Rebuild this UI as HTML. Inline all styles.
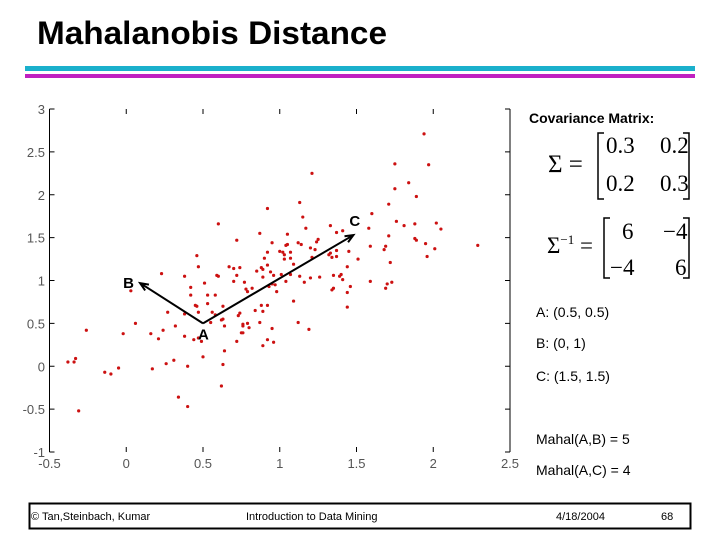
<!DOCTYPE html>
<html><head><meta charset="utf-8"><style>
html,body{margin:0;padding:0;background:#fff;}
svg{display:block;font-family:"Liberation Sans",sans-serif;}
</style></head><body>
<svg id="s" width="720" height="540" viewBox="0 0 720 540">
<text x="37" y="44" font-size="32" font-weight="bold" textLength="350" lengthAdjust="spacingAndGlyphs">Mahalanobis Distance</text>
<rect x="25" y="66" width="670" height="5" fill="#1ab0cc"/>
<rect x="25" y="74" width="670" height="4" fill="#c020c0"/>
<g id="plot"></g>
<g font-family="'Liberation Serif',serif" font-size="23">
<text x="529" y="123" font-family="'Liberation Sans',sans-serif" font-size="14" font-weight="bold">Covariance Matrix:</text>
<text x="548" y="172" font-size="25">Σ =</text>
<path d="M604,133 h-6 v66 h6 M683,133 h6 v66 h-6" stroke="#000" stroke-width="1.5" fill="none"/>
<text x="606" y="153">0.3</text>
<text x="660" y="153">0.2</text>
<text x="606" y="191">0.2</text>
<text x="660" y="191">0.3</text>
<text x="547" y="253" font-size="23">Σ<tspan dy="-9" font-size="13">−1</tspan><tspan dy="9"> =</tspan></text>
<path d="M610,218 h-6 v60 h6 M683,218 h6 v60 h-6" stroke="#000" stroke-width="1.5" fill="none"/>
<text x="622" y="239">6</text>
<text x="663" y="239">−4</text>
<text x="610" y="275">−4</text>
<text x="675" y="275">6</text>
</g>
<g font-size="14">
<text x="536" y="317">A: (0.5, 0.5)</text>
<text x="536" y="348">B: (0, 1)</text>
<text x="536" y="381">C: (1.5, 1.5)</text>
<text x="536" y="444">Mahal(A,B) = 5</text>
<text x="536" y="475">Mahal(A,C) = 4</text>
</g>
<rect x="29.5" y="503.5" width="661" height="25" fill="none" stroke="#000" stroke-width="2"/>
<g font-size="11">
<text x="31" y="520">© Tan,Steinbach, Kumar</text>
<text x="246" y="520">Introduction to Data Mining</text>
<text x="556" y="520">4/18/2004</text>
<text x="661" y="520">68</text>
</g>
</svg>
<script>
const xTicks=[-0.5,0,0.5,1,1.5,2,2.5];
const xTickLabels=["-0.5","0","0.5","1","1.5","2","2.5"];
const yTicks=[-1,-0.5,0,0.5,1,1.5,2,2.5,3];
const yTickLabels=["-1","-0.5","0","0.5","1","1.5","2","2.5","3"];
const px=[1.94,1.75,1.97,1.21,1.75,1.84,1.89,1.13,1.71,0.92,1.6,1.15,0.6,1.76,1.81,1.88,2.02,2.05,1.58,1.17,1.33,1.41,1.37,1.05,0.87,1.71,1.88,1.89,1.95,2.01,2.29,0.72,0.95,1.25,1.12,1.14,1.04,1.05,1.24,1.2,1.23,1.0,1.02,1.03,1.07,0.92,0.46,1.69,1.68,1.59,1.33,1.37,1.45,1.34,1.32,1.37,1.51,1.72,1.96,1.21,1.03,1.07,0.9,1.09,0.47,0.67,0.74,0.88,0.7,0.89,0.85,0.92,0.94,0.59,0.6,0.72,0.89,0.96,1.01,1.07,1.13,1.2,1.26,1.35,1.4,1.44,1.39,1.41,0.23,0.38,0.51,0.7,0.77,1.04,1.16,0.95,0.97,0.93,1.59,1.73,1.7,1.46,1.69,0.42,0.78,0.82,0.79,0.98,1.35,1.34,1.44,0.03,0.42,0.53,0.58,0.53,1.09,0.45,0.46,0.63,0.88,0.92,1.44,0.84,0.89,0.27,0.47,0.56,0.74,0.38,0.58,0.73,0.63,0.62,0.55,0.76,0.79,0.87,1.12,0.06,0.64,0.32,0.76,0.8,0.95,1.19,-0.26,0.24,-0.02,0.16,0.38,0.75,0.76,0.21,0.44,0.47,0.49,0.72,0.96,0.92,0.89,0.64,0.5,0.31,0.26,-0.33,-0.34,-0.38,-0.05,0.17,0.4,0.63,-0.14,-0.1,0.62,0.34,0.4,-0.31];
const py=[2.71,2.36,2.35,2.25,2.07,2.14,1.98,1.91,1.89,1.84,1.78,1.74,1.66,1.69,1.64,1.66,1.67,1.6,1.61,1.61,1.64,1.58,1.56,1.54,1.55,1.52,1.49,1.47,1.43,1.37,1.41,1.47,1.44,1.48,1.44,1.42,1.41,1.42,1.45,1.38,1.36,1.34,1.33,1.3,1.33,1.33,1.29,1.4,1.36,1.4,1.32,1.35,1.34,1.27,1.3,1.28,1.25,1.21,1.28,1.27,1.25,1.26,1.26,1.19,1.16,1.16,1.15,1.15,1.14,1.13,1.11,1.18,1.1,1.06,1.05,1.06,1.04,1.06,1.07,1.07,1.05,1.03,1.04,1.06,1.07,1.16,1.05,1.01,1.08,1.05,0.97,0.99,0.98,0.99,0.98,0.96,0.95,0.93,0.99,0.98,0.96,0.93,0.91,0.92,0.9,0.91,0.87,0.87,0.91,0.89,0.86,0.88,0.83,0.83,0.83,0.73,0.76,0.71,0.7,0.7,0.71,0.71,0.69,0.65,0.64,0.63,0.63,0.63,0.62,0.61,0.6,0.59,0.55,0.54,0.51,0.49,0.5,0.51,0.51,0.5,0.47,0.47,0.47,0.45,0.44,0.43,0.42,0.42,0.38,0.38,0.35,0.39,0.39,0.32,0.31,0.33,0.29,0.29,0.28,0.31,0.24,0.18,0.11,0.07,0.03,0.09,0.05,0.05,-0.02,-0.03,0,0.02,-0.07,-0.09,-0.23,-0.36,-0.47,-0.52];
const ptA=[0.5,0.5], ptB=[0.09,0.97], ptC=[1.48,1.53];
const NS="http://www.w3.org/2000/svg";
const L=49.5,R=510,T=109,B=452;
const sx=v=>L+(v+0.5)/3*(R-L);
const sy=v=>B-(v+1)/4*(B-T);
const g=document.getElementById('plot');
function mk(t,a){const e=document.createElementNS(NS,t);for(const k in a)e.setAttribute(k,a[k]);g.appendChild(e);return e;}
let e=mk('line',{x1:L,y1:T,x2:L,y2:B,stroke:'#000','stroke-width':1});


e=mk('line',{x1:R,y1:T,x2:R,y2:B,stroke:'#000','stroke-width':1});


xTicks.forEach((v,i)=>{
 const x=sx(v);
 let t=mk('path',{d:`M${x},${T}v5M${x},${B}v-5`,stroke:'#000','stroke-width':1});
 
 
 let s=mk('text',{x:x,y:468,'font-size':13,fill:'#555','text-anchor':'middle'});s.textContent=xTickLabels[i];
 
 
});
yTicks.forEach((v,i)=>{
 const y=sy(v);
 let t=mk('path',{d:`M${L},${y}h5M${R},${y}h-5`,stroke:'#000','stroke-width':1});
 
 
 let s=mk('text',{x:45,y:y+5,'font-size':13,fill:'#555','text-anchor':'end'});s.textContent=yTickLabels[i];
 
 
});
px.forEach((v,i)=>{
 const c=mk('circle',{cx:sx(v),cy:sy(py[i]),r:1.6,fill:'#cc1111'});
 
 
});
function arrow(p,q,name){
 const x1=sx(p[0]),y1=sy(p[1]),x2=sx(q[0]),y2=sy(q[1]);
 const a=Math.atan2(y2-y1,x2-x1),h=9;
 const d=`M${x1},${y1}L${x2},${y2}M${x2-h*Math.cos(a-0.4)},${y2-h*Math.sin(a-0.4)}L${x2},${y2}L${x2-h*Math.cos(a+0.4)},${y2-h*Math.sin(a+0.4)}`;
 const l=mk('path',{d:d,stroke:'#000','stroke-width':2,fill:'none'});
 
 
}
arrow(ptA,ptB,'arrow-a-to-b');
arrow(ptA,ptC,'arrow-a-to-c');
function lab(txt,p,dx,dy,name){
 const t=mk('text',{x:sx(p[0])+dx,y:sy(p[1])+dy,'font-size':15,'font-weight':'bold'});t.textContent=txt;
 
 
}
lab('A',ptA,-5,16,'label-a');
lab('B',ptB,-17,5,'label-b');
lab('C',ptC,-4,-9,'label-c');
</script>
</body></html>
